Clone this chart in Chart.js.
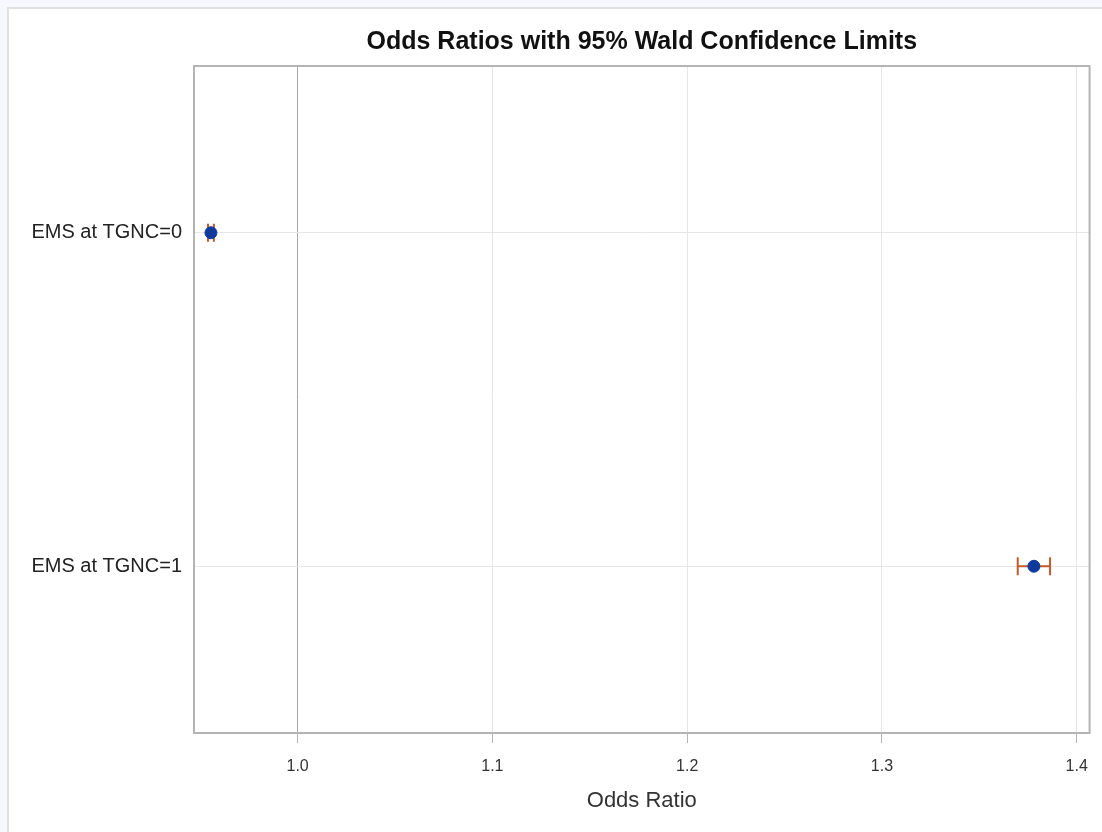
<!DOCTYPE html>
<html>
<head>
<meta charset="utf-8">
<script src="https://cdn.jsdelivr.net/npm/chart.js@4"></script>
<style>
  html, body { margin: 0; padding: 0; background: #f7f8fd; }
  #panel {
    position: absolute; left: 7px; top: 7px; right: 0; bottom: 0;
    background: #fff; border-left: 2px solid #e0e0e0; border-top: 2px solid #e0e0e0;
  }
  #orChart { position: absolute; left: 0; top: 0; }
</style>
</head>
<body>
<div id="panel"></div>
<canvas id="orChart" width="1102" height="832"></canvas>
<script>
"use strict";

const CATEGORIES = ["EMS at TGNC=0", "EMS at TGNC=1"];
const ODDS_RATIO = [0.9555, 1.378];
const LOWER_CL = [0.954, 1.3697];
const UPPER_CL = [0.957, 1.3863];
const X_TICKS = [1.0, 1.1, 1.2, 1.3, 1.4];
const TITLE = "Odds Ratios with 95% Wald Confidence Limits";

const FONT = "'Liberation Sans', Arial, sans-serif";

// error bars (Wald limits) drawn under the points
const errorBarPlugin = {
  id: "errorBars",
  beforeDatasetsDraw(chart) {
    const ctx = chart.ctx;
    const xScale = chart.scales.x;
    const meta = chart.getDatasetMeta(0);
    ctx.save();
    ctx.strokeStyle = "#c25a2c";
    ctx.lineWidth = 2;
    meta.data.forEach((pt, i) => {
      const y = pt.y;
      const x1 = xScale.getPixelForValue(LOWER_CL[i]);
      const x2 = xScale.getPixelForValue(UPPER_CL[i]);
      const cap = 9;
      ctx.beginPath();
      ctx.moveTo(x1, y);
      ctx.lineTo(x2, y);
      ctx.moveTo(x1, y - cap);
      ctx.lineTo(x1, y + cap);
      ctx.moveTo(x2, y - cap);
      ctx.lineTo(x2, y + cap);
      ctx.stroke();
    });
    ctx.restore();
  },
};

// box round the plot area + title centred over it
const framePlugin = {
  id: "frame",
  afterDraw(chart) {
    const { left, top, right, bottom } = chart.chartArea;
    const ctx = chart.ctx;
    ctx.save();
    ctx.strokeStyle = "#b4b4b4";
    ctx.lineWidth = 2;
    ctx.strokeRect(left, top, right - left, bottom - top);
    ctx.fillStyle = "#111";
    ctx.font = "bold 25px " + FONT;
    ctx.textAlign = "center";
    ctx.textBaseline = "middle";
    ctx.fillText(TITLE, (left + right) / 2, 42);
    ctx.restore();
  },
};

new Chart(document.getElementById("orChart"), {
  type: "scatter",
  data: {
    labels: CATEGORIES,
    datasets: [
      {
        data: CATEGORIES.map((c, i) => ({ x: ODDS_RATIO[i], y: c })),
        backgroundColor: "#0f3a9c",
        borderColor: "#0f3a9c",
        pointRadius: 6,
        pointHoverRadius: 6,
      },
    ],
  },
  options: {
    responsive: false,
    animation: false,
    layout: { padding: { left: 0, right: 10, top: 66, bottom: 0 } },
    plugins: {
      legend: { display: false },
      tooltip: { enabled: false },
      title: { display: false },
    },
    scales: {
      x: {
        type: "linear",
        min: 0.9468,
        max: 1.4066,
        afterBuildTicks(scale) {
          scale.ticks = X_TICKS.map((v) => ({ value: v }));
        },
        afterFit(scale) {
          scale.height = 99;
        },
        border: { display: false },
        grid: {
          color: (c) => (c.tick && c.tick.value === 1 ? "#a8a8a8" : "#e6e6e6"),
          tickColor: "#b4b4b4",
          tickLength: 10,
          lineWidth: 1,
        },
        ticks: {
          color: "#333",
          padding: 14,
          font: { family: FONT, size: 16 },
          callback: (v) => Number(v).toFixed(1),
        },
        title: {
          display: true,
          text: "Odds Ratio",
          color: "#333",
          font: { family: FONT, size: 22 },
          padding: { top: 0, bottom: 18 },
        },
      },
      y: {
        type: "category",
        labels: CATEGORIES,
        offset: true,
        afterFit(scale) {
          scale.width = 194;
        },
        border: { display: false },
        grid: {
          offset: false,
          color: "#e6e6e6",
          drawTicks: false,
        },
        ticks: {
          color: "#222",
          padding: 12,
          font: { family: FONT, size: 20 },
        },
      },
    },
  },
  plugins: [errorBarPlugin, framePlugin],
});
</script>
</body>
</html>
